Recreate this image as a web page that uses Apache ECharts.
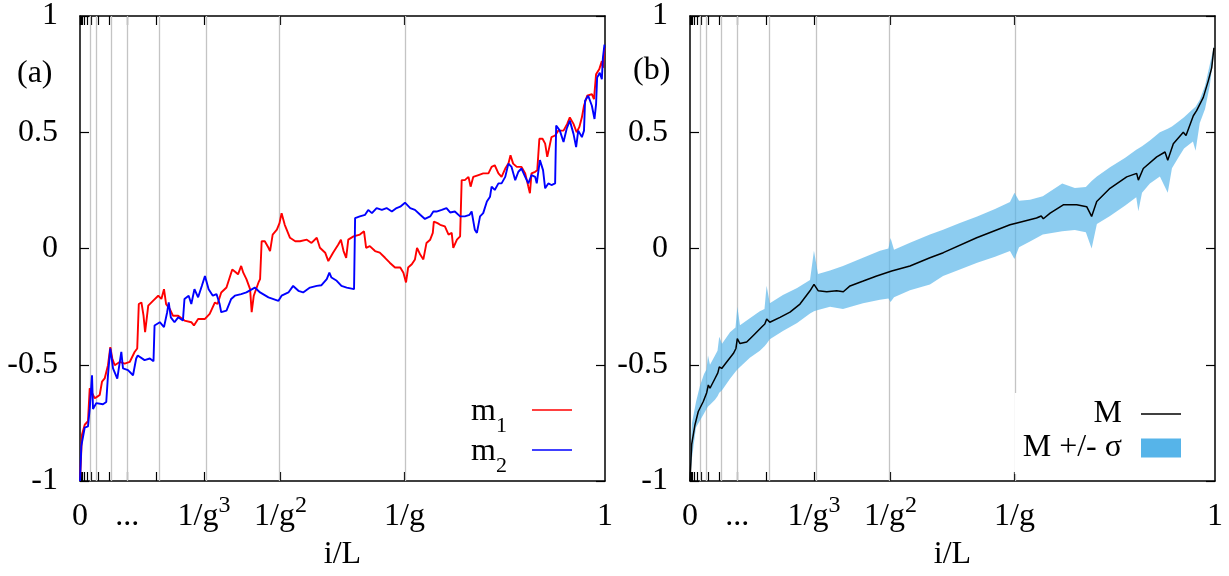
<!DOCTYPE html>
<html><head><meta charset="utf-8">
<script src="https://cdn.jsdelivr.net/npm/echarts@6/dist/echarts.min.js"></script>
<style>html,body{margin:0;padding:0;background:#fff}#c{width:1229px;height:576px}</style>
</head><body><div id="c"></div>
<script>
const G = (1 + Math.sqrt(5)) / 2;
// vertical grid lines at 1/g^k, k = 1..8 ; ticks at k = 1..14
const gridLineVals = [1/G, 1/G**2, 1/G**3, 1/G**4, 1/G**5, 1/G**6, 1/G**7, 1/G**8];
const tickVals = [1/G, 1/G**2, 1/G**3, 1/G**4, 1/G**5, 1/G**6, 1/G**7, 1/G**8, 1/G**9, 1/G**10, 1/G**11, 1/G**12, 1/G**13, 1/G**14];
const xLabelVals = [0, 1/G**5, 1/G**3, 1/G**2, 1/G, 1];
const xLabelText = ['0', '...', '1/g^3', '1/g^2', '1/g', '1'];

// panel (a): m1 (red)
const m1 = [[0,-1],[0.0038,-0.8],[0.009,-0.758],[0.0152,-0.743],[0.0185,-0.601],[0.0215,-0.615],[0.028,-0.644],[0.033,-0.637],[0.0375,-0.63],[0.0419,-0.573],[0.047,-0.559],[0.0533,-0.502],[0.0577,-0.424],[0.0615,-0.473],[0.0661,-0.502],[0.0756,-0.488],[0.0851,-0.495],[0.0947,-0.488],[0.104,-0.445],[0.109,-0.43],[0.112,-0.239],[0.117,-0.232],[0.121,-0.289],[0.124,-0.36],[0.130,-0.246],[0.139,-0.225],[0.149,-0.203],[0.155,-0.217],[0.160,-0.175],[0.164,-0.239],[0.171,-0.26],[0.177,-0.289],[0.187,-0.289],[0.199,-0.31],[0.212,-0.317],[0.217,-0.331],[0.225,-0.303],[0.238,-0.303],[0.247,-0.281],[0.257,-0.232],[0.262,-0.239],[0.269,-0.189],[0.279,-0.168],[0.290,-0.09],[0.296,-0.101],[0.301,-0.111],[0.307,-0.075],[0.311,-0.104],[0.317,-0.132],[0.324,-0.175],[0.327,-0.274],[0.331,-0.203],[0.340,-0.146],[0.343,-0.132],[0.346,0.031],[0.352,0.031],[0.359,0.003],[0.362,-0.011],[0.367,0.06],[0.375,0.081],[0.380,0.109],[0.384,0.152],[0.390,0.102],[0.400,0.046],[0.410,0.031],[0.419,0.031],[0.432,0.038],[0.441,0.024],[0.451,0.046],[0.457,0.003],[0.467,-0.018],[0.473,-0.054],[0.482,-0.018],[0.492,0.017],[0.497,0.038],[0.502,-0.011],[0.507,-0.04],[0.511,0.038],[0.521,0.052],[0.533,0.06],[0.541,0.074],[0.545,0.003],[0.552,0.01],[0.562,-0.011],[0.571,-0.018],[0.581,-0.04],[0.590,-0.061],[0.600,-0.082],[0.610,-0.082],[0.616,-0.104],[0.621,-0.146],[0.625,-0.082],[0.632,-0.068],[0.638,-0.047],[0.642,0.003],[0.648,-0.026],[0.654,-0.047],[0.660,0.024],[0.667,0.038],[0.672,0.067],[0.674,0.116],[0.681,0.109],[0.686,0.102],[0.695,0.095],[0.702,0.06],[0.708,0.067],[0.711,0.003],[0.718,0.038],[0.724,0.052],[0.727,0.294],[0.733,0.294],[0.740,0.308],[0.744,0.266],[0.749,0.308],[0.759,0.316],[0.768,0.323],[0.778,0.323],[0.784,0.351],[0.790,0.358],[0.797,0.323],[0.803,0.308],[0.810,0.344],[0.816,0.365],[0.820,0.401],[0.825,0.365],[0.832,0.351],[0.841,0.351],[0.848,0.323],[0.854,0.266],[0.857,0.238],[0.860,0.323],[0.867,0.33],[0.871,0.337],[0.875,0.472],[0.881,0.472],[0.886,0.451],[0.890,0.394],[0.894,0.436],[0.898,0.479],[0.905,0.486],[0.911,0.507],[0.921,0.507],[0.928,0.536],[0.933,0.564],[0.940,0.536],[0.946,0.5],[0.951,0.522],[0.956,0.564],[0.960,0.614],[0.966,0.657],[0.975,0.664],[0.979,0.642],[0.983,0.749],[0.989,0.771],[0.994,0.806],[0.996,0.777],[0.999,0.863]];

// panel (a): m2 (blue)
const m2 = [[0,-1],[0.0025,-0.85],[0.009,-0.77],[0.0152,-0.765],[0.0185,-0.69],[0.0229,-0.545],[0.0248,-0.69],[0.031,-0.665],[0.0438,-0.67],[0.050,-0.66],[0.0533,-0.545],[0.0577,-0.43],[0.0629,-0.516],[0.071,-0.56],[0.0787,-0.445],[0.0819,-0.516],[0.0914,-0.523],[0.101,-0.545],[0.107,-0.473],[0.110,-0.46],[0.123,-0.48],[0.133,-0.473],[0.140,-0.485],[0.142,-0.331],[0.152,-0.317],[0.160,-0.338],[0.166,-0.274],[0.169,-0.232],[0.173,-0.296],[0.180,-0.317],[0.187,-0.296],[0.196,-0.31],[0.199,-0.217],[0.207,-0.203],[0.212,-0.239],[0.218,-0.175],[0.225,-0.21],[0.232,-0.161],[0.238,-0.118],[0.245,-0.175],[0.253,-0.203],[0.260,-0.196],[0.266,-0.239],[0.269,-0.274],[0.279,-0.267],[0.288,-0.217],[0.295,-0.203],[0.307,-0.196],[0.317,-0.189],[0.333,-0.168],[0.343,-0.189],[0.359,-0.21],[0.378,-0.225],[0.384,-0.203],[0.397,-0.189],[0.406,-0.161],[0.416,-0.182],[0.425,-0.189],[0.438,-0.168],[0.451,-0.161],[0.460,-0.158],[0.470,-0.132],[0.475,-0.104],[0.479,-0.125],[0.489,-0.139],[0.498,-0.161],[0.508,-0.168],[0.522,-0.175],[0.524,0.131],[0.533,0.138],[0.543,0.145],[0.549,0.166],[0.556,0.152],[0.565,0.174],[0.575,0.166],[0.584,0.174],[0.594,0.159],[0.603,0.174],[0.610,0.18],[0.619,0.197],[0.629,0.174],[0.638,0.166],[0.648,0.145],[0.657,0.127],[0.667,0.138],[0.673,0.159],[0.679,0.159],[0.689,0.166],[0.698,0.174],[0.705,0.155],[0.714,0.159],[0.724,0.138],[0.733,0.138],[0.742,0.145],[0.746,0.159],[0.752,0.081],[0.756,0.067],[0.762,0.138],[0.768,0.152],[0.775,0.202],[0.781,0.223],[0.784,0.266],[0.790,0.252],[0.797,0.28],[0.803,0.28],[0.810,0.308],[0.816,0.365],[0.822,0.351],[0.829,0.294],[0.835,0.33],[0.841,0.344],[0.848,0.308],[0.854,0.28],[0.860,0.316],[0.867,0.308],[0.870,0.28],[0.876,0.38],[0.882,0.337],[0.886,0.259],[0.892,0.28],[0.898,0.273],[0.905,0.28],[0.907,0.529],[0.914,0.507],[0.921,0.458],[0.927,0.515],[0.933,0.55],[0.940,0.493],[0.945,0.436],[0.949,0.507],[0.956,0.479],[0.960,0.507],[0.962,0.635],[0.968,0.657],[0.975,0.614],[0.980,0.557],[0.983,0.621],[0.985,0.735],[0.990,0.756],[0.994,0.728],[0.996,0.82],[0.999,0.877]];

// panel (b): mean M (black)
const mMean = [[0,-1],[0.0032,-0.843],[0.0095,-0.758],[0.0158,-0.701],[0.0253,-0.658],[0.0318,-0.62],[0.0349,-0.587],[0.0381,-0.601],[0.0476,-0.559],[0.053,-0.535],[0.0558,-0.509],[0.0604,-0.516],[0.0699,-0.488],[0.0825,-0.452],[0.0875,-0.43],[0.0901,-0.388],[0.0952,-0.409],[0.108,-0.402],[0.1206,-0.374],[0.1366,-0.338],[0.1425,-0.325],[0.1461,-0.303],[0.152,-0.317],[0.1714,-0.296],[0.1905,-0.274],[0.2095,-0.239],[0.2286,-0.182],[0.2362,-0.154],[0.2444,-0.182],[0.2604,-0.186],[0.2794,-0.182],[0.292,-0.186],[0.3048,-0.161],[0.330,-0.14],[0.3556,-0.118],[0.3842,-0.097],[0.419,-0.075],[0.457,-0.04],[0.4825,-0.018],[0.546,0.046],[0.6095,0.102],[0.621,0.109],[0.660,0.131],[0.669,0.14],[0.673,0.128],[0.686,0.152],[0.711,0.188],[0.7366,0.188],[0.7556,0.18],[0.765,0.138],[0.7747,0.202],[0.800,0.259],[0.8318,0.308],[0.8508,0.323],[0.854,0.294],[0.8634,0.344],[0.889,0.394],[0.9048,0.415],[0.910,0.38],[0.9206,0.451],[0.9396,0.5],[0.9448,0.486],[0.9587,0.571],[0.965,0.593],[0.9777,0.65],[0.9872,0.721],[0.9937,0.777],[0.998,0.863]];

// panel (b): band M +/- sigma  [x, lower, upper]
const band = [[0,-1.0,-0.93],[0.0038,-0.9,-0.75],[0.0114,-0.77,-0.66],[0.019,-0.74,-0.59],[0.0267,-0.71,-0.54],[0.0314,-0.69,-0.52],[0.0343,-0.68,-0.46],[0.0381,-0.672,-0.5],[0.0476,-0.65,-0.46],[0.0524,-0.635,-0.44],[0.0557,-0.62,-0.38],[0.061,-0.61,-0.41],[0.0762,-0.56,-0.36],[0.0867,-0.53,-0.34],[0.0902,-0.52,-0.25],[0.0952,-0.51,-0.33],[0.114,-0.47,-0.30],[0.133,-0.44,-0.27],[0.1419,-0.42,-0.26],[0.1459,-0.41,-0.16],[0.152,-0.39,-0.235],[0.177,-0.355,-0.2],[0.204,-0.32,-0.17],[0.2286,-0.28,-0.135],[0.2361,-0.27,-0.01],[0.2438,-0.265,-0.11],[0.2667,-0.25,-0.095],[0.2914,-0.26,-0.075],[0.3295,-0.235,-0.04],[0.3619,-0.22,-0.01],[0.378,-0.215,0.0],[0.382,-0.23,0.045],[0.3886,-0.21,-0.005],[0.419,-0.18,0.025],[0.457,-0.155,0.06],[0.482,-0.118,0.081],[0.514,-0.09,0.11],[0.547,-0.061,0.138],[0.581,-0.035,0.17],[0.6095,-0.011,0.2],[0.618,-0.045,0.24],[0.6267,0.005,0.205],[0.6476,0.03,0.21],[0.672,0.06,0.225],[0.709,0.074,0.28],[0.733,0.08,0.26],[0.754,0.07,0.265],[0.765,0.0,0.29],[0.775,0.105,0.31],[0.800,0.14,0.35],[0.829,0.185,0.39],[0.850,0.22,0.425],[0.854,0.16,0.43],[0.861,0.24,0.44],[0.876,0.28,0.465],[0.895,0.31,0.5],[0.910,0.24,0.515],[0.918,0.345,0.525],[0.930,0.39,0.545],[0.941,0.43,0.565],[0.958,0.46,0.6],[0.963,0.42,0.61],[0.971,0.54,0.64],[0.981,0.6,0.7],[0.990,0.7,0.79],[0.998,0.84,0.87]];

const FONT = "'Liberation Serif','DejaVu Serif',serif";
const FS = 32;
const chart = echarts.init(document.getElementById('c'), null, {renderer: 'canvas'});

function fmtX(v) {
  const i = xLabelVals.findIndex(t => Math.abs(t - v) < 1e-6);
  if (i < 0) return '';
  const s = xLabelText[i];
  const m = s.match(/^(.*)\^(\d)$/);
  return m ? '{n|' + m[1] + '}{s|' + m[2] + '}' : '{n|' + s + '}';
}
const xRich = {
  n: {fontFamily: FONT, fontSize: FS, lineHeight: 32, padding: [7, 0, 0, 0], verticalAlign: 'top', color: '#000'},
  s: {fontFamily: FONT, fontSize: 24, lineHeight: 24, verticalAlign: 'top', color: '#000'}
};
const axLine = {show: true, onZero: false, lineStyle: {color: '#000', width: 1.5}};
const tick = {show: true, inside: true, length: 9, lineStyle: {color: '#000', width: 1.2}};

function xAxes(gi) {
  return [
    {type: 'value', gridIndex: gi, position: 'bottom', min: 0, max: 1,
     axisLine: axLine, splitLine: {show: false},
     axisTick: Object.assign({}, tick, {customValues: tickVals}),
     axisLabel: {show: true, customValues: xLabelVals, formatter: fmtX, margin: 13, rich: xRich},
     name: 'i/L', nameLocation: 'middle', nameGap: 58,
     nameTextStyle: {fontFamily: FONT, fontSize: FS, color: '#000'}},
    {type: 'value', gridIndex: gi, position: 'top', min: 0, max: 1,
     axisLine: axLine, splitLine: {show: false},
     axisTick: Object.assign({}, tick, {customValues: tickVals}),
     axisLabel: {show: false}}
  ];
}
function yAxes(gi) {
  return [
    {type: 'value', gridIndex: gi, position: 'left', min: -1, max: 1, interval: 0.5,
     axisLine: axLine, splitLine: {show: false}, axisTick: tick,
     axisLabel: {fontFamily: FONT, fontSize: FS, color: '#000', margin: 22}},
    {type: 'value', gridIndex: gi, position: 'right', min: -1, max: 1, interval: 0.5,
     axisLine: axLine, splitLine: {show: false}, axisTick: tick, axisLabel: {show: false}}
  ];
}
const gridMark = {
  silent: true, symbol: ['none', 'none'], label: {show: false}, z: 1,
  lineStyle: {color: '#c4c4c4', width: 1.3, type: 'solid'},
  emphasis: {disabled: true},
  data: gridLineVals.map(v => ({xAxis: v}))
};

const legText = {fontFamily: FONT, color: '#000'};
const option = {
  animation: false,
  backgroundColor: '#fff',
  title: [
    {text: '(a)', left: 17, top: 58, padding: 0, textStyle: {fontFamily: FONT, fontSize: FS, fontWeight: 'normal', color: '#000', lineHeight: 32}},
    {text: '(b)', left: 633, top: 55, padding: 0, textStyle: {fontFamily: FONT, fontSize: FS, fontWeight: 'normal', color: '#000', lineHeight: 32}}
  ],
  grid: [
    {left: 80, right: 624, top: 14, bottom: 93},
    {left: 690, right: 14, top: 14, bottom: 93}
  ],
  xAxis: xAxes(0).concat(xAxes(1)),
  yAxis: yAxes(0).concat(yAxes(1)),
  legend: [
    {data: ['m1', 'm2'], orient: 'vertical', align: 'right', right: 657, top: 396, padding: 0, itemGap: -1,
     icon: 'rect', itemWidth: 40, itemHeight: 1.6, selectedMode: false,
     formatter: name => '{m|' + name[0] + '}{b|' + name.slice(1) + '}{g| }',
     textStyle: Object.assign({}, legText, {rich: {
       m: {fontFamily: FONT, fontSize: FS, lineHeight: 28, verticalAlign: 'top', color: '#000'},
       b: {fontFamily: FONT, fontSize: 22, lineHeight: 18, padding: [19, 0, 0, 0], verticalAlign: 'top', color: '#000'},
       g: {width: 20}}})},
    {data: ['M +/- σ'], orient: 'vertical', align: 'right', right: 40, top: 393, padding: [39, 8, 10, 8],
     backgroundColor: '#fff', icon: 'rect', itemWidth: 40, itemHeight: 19, selectedMode: false,
     formatter: name => '{t|' + name + '}{g| }',
     textStyle: Object.assign({}, legText, {rich: {
       t: {fontFamily: FONT, fontSize: FS, lineHeight: 30, color: '#000'}, g: {width: 14}}})},
    {data: ['M'], orient: 'vertical', align: 'right', right: 48, top: 398, padding: 0,
     icon: 'rect', itemWidth: 40, itemHeight: 1.5, selectedMode: false,
     formatter: name => '{t|' + name + '}{g| }',
     textStyle: Object.assign({}, legText, {rich: {
       t: {fontFamily: FONT, fontSize: FS, lineHeight: 30, color: '#000'}, g: {width: 14}}})}
  ],
  series: [
    {name: 'm1', type: 'line', xAxisIndex: 0, yAxisIndex: 0, data: m1, symbol: 'none', z: 3,
     color: '#ff0000', lineStyle: {color: '#ff0000', width: 1.9}, markLine: gridMark},
    {name: 'm2', type: 'line', xAxisIndex: 0, yAxisIndex: 0, data: m2, symbol: 'none', z: 3,
     color: '#0000ff', lineStyle: {color: '#0000ff', width: 1.9}},
    {name: 'M +/- σ', type: 'custom', xAxisIndex: 2, yAxisIndex: 2, data: band, z: 2,
     color: '#56B4E9', itemStyle: {color: '#56B4E9'},
     encode: {x: 0, y: [1, 2]},
     renderItem: function (params, api) {
       if (params.dataIndexInside !== 0) return null;
       const n = params.dataInsideLength;
       const up = [], lo = [];
       for (let j = 0; j < n; j++) {
         up.push(api.coord([api.value(0, j), api.value(2, j)]));
         lo.push(api.coord([api.value(0, j), api.value(1, j)]));
       }
       return {type: 'polygon', shape: {points: up.concat(lo.reverse())},
               style: {fill: 'rgba(86,180,233,0.68)', stroke: null}};
     }},
    {name: 'M', type: 'line', xAxisIndex: 2, yAxisIndex: 2, data: mMean, symbol: 'none', z: 4,
     color: '#000', lineStyle: {color: '#000', width: 1.5}, markLine: gridMark}
  ]
};
chart.setOption(option);
</script></body></html>
